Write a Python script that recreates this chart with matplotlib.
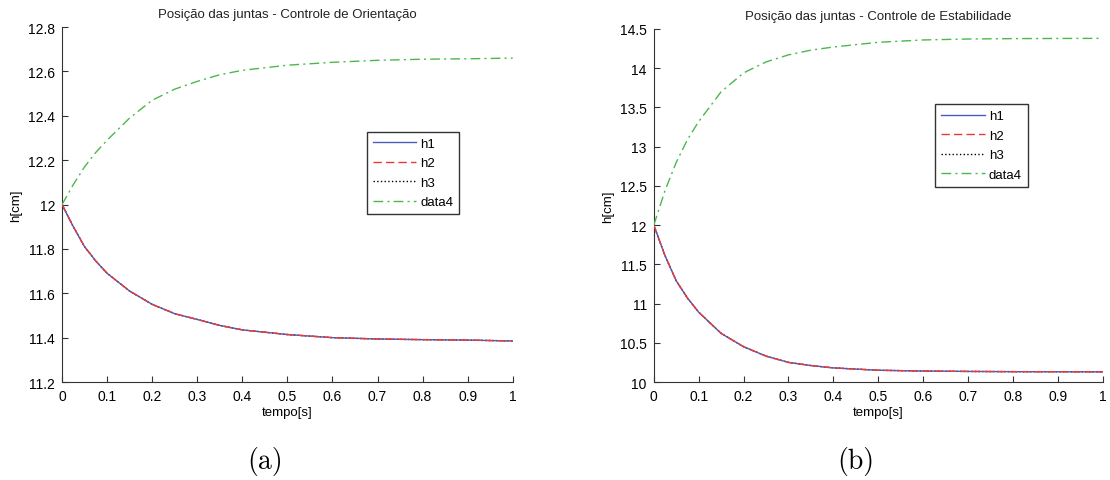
import matplotlib

matplotlib.use("Agg")
import matplotlib.pyplot as plt

plt.rcParams["font.family"] = ["Liberation Sans", "DejaVu Sans"]

# tempo [s]
t = [0.0, 0.025, 0.05, 0.075, 0.1, 0.15, 0.2, 0.25, 0.3, 0.35, 0.4, 0.5, 0.6,
     0.7, 0.8, 0.9, 1.0]

# (a) controle de orientacao
h_orient = [12.0, 11.90, 11.81, 11.745, 11.69, 11.61, 11.55, 11.508, 11.482,
            11.455, 11.435, 11.414, 11.40, 11.394, 11.391, 11.389, 11.385]
d4_orient = [12.0, 12.09, 12.17, 12.235, 12.29, 12.39, 12.47, 12.52, 12.555,
             12.585, 12.605, 12.628, 12.641, 12.65, 12.655, 12.657, 12.66]

# (b) controle de estabilidade
h_estab = [12.0, 11.61, 11.29, 11.07, 10.89, 10.62, 10.45, 10.33, 10.25,
           10.21, 10.18, 10.15, 10.14, 10.135, 10.132, 10.131, 10.13]
d4_estab = [12.0, 12.44, 12.8, 13.09, 13.32, 13.7, 13.94, 14.08, 14.17,
            14.23, 14.27, 14.33, 14.36, 14.372, 14.377, 14.379, 14.38]

titles = ["Posição das juntas - Controle de Orientação",
          "Posição das juntas - Controle de Estabilidade"]
ylims = [(11.2, 12.8), (10, 14.5)]
yticks = [[11.2, 11.4, 11.6, 11.8, 12, 12.2, 12.4, 12.6, 12.8],
          [10, 10.5, 11, 11.5, 12, 12.5, 13, 13.5, 14, 14.5]]
xticks = [0, 0.1, 0.2, 0.3, 0.4, 0.5, 0.6, 0.7, 0.8, 0.9, 1]
legend_pos = [(0.676, 0.705), (0.627, 0.787)]
sublabels = ["(a)", "(b)"]

fig = plt.figure(figsize=(11.1, 4.81), dpi=100)
rects = [[0.0559, 0.2037, 0.406, 0.738], [0.589, 0.2037, 0.4045, 0.734]]

for i, (h, d4) in enumerate([(h_orient, d4_orient), (h_estab, d4_estab)]):
    ax = fig.add_axes(rects[i])
    ax.plot(t, h, color="black", ls=":", lw=1, label="h3", zorder=1)
    ax.plot(t, h, color="#4a5cc0", ls="-", lw=1, label="h1", zorder=2)
    ax.plot(t, h, color="#e83a3a", ls=(0, (6, 3)), lw=1, label="h2", zorder=3)
    ax.plot(t, d4, color="#4cb84c", ls=(0, (7, 3, 1.5, 3)), lw=1,
            label="data4", zorder=4)

    ax.set_xlim(0, 1)
    ax.set_ylim(*ylims[i])
    ax.set_xticks(xticks)
    ax.set_xticklabels(["%g" % v for v in xticks])
    ax.set_yticks(yticks[i])
    ax.set_yticklabels(["%g" % v for v in yticks[i]])
    ax.tick_params(direction="in", length=4, labelsize=10, pad=5, color="#333333")
    for s in ["top", "right"]:
        ax.spines[s].set_visible(False)
    for s in ["left", "bottom"]:
        ax.spines[s].set_color("#333333")

    ax.set_title(titles[i], fontsize=9.5, pad=7, color="#222222")
    ax.set_xlabel("tempo[s]", fontsize=9.5, labelpad=2)
    ax.set_ylabel("h[cm]", fontsize=9.5, labelpad=4)

    handles, labels = ax.get_legend_handles_labels()
    order = [1, 2, 0, 3]
    leg = ax.legend([handles[k] for k in order], [labels[k] for k in order],
                    loc="upper left", bbox_to_anchor=legend_pos[i],
                    fontsize=9.5, handlelength=3.3, handletextpad=0.3,
                    labelspacing=0.55, borderpad=0.45, borderaxespad=0,
                    fancybox=False, framealpha=1, edgecolor="#333333")
    leg.get_frame().set_linewidth(1)

    fig.text(rects[i][0] + rects[i][2] * 0.45, 0.04, sublabels[i],
             family="cmr10", fontsize=20, ha="center", va="center")

fig.savefig("out.png", dpi=100)
